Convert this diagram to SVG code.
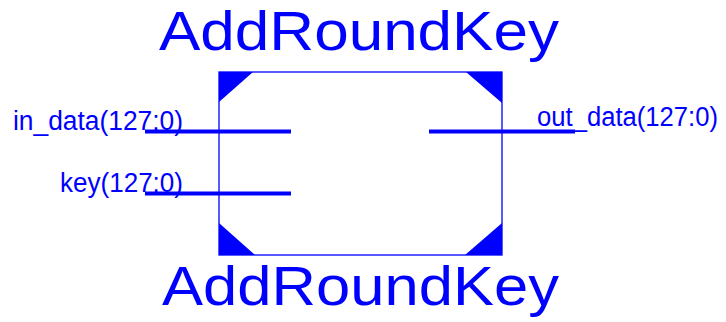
<svg xmlns="http://www.w3.org/2000/svg" width="726" height="322" viewBox="0 0 726 322">
<style>
.t{font-family:"Liberation Sans",Arial,sans-serif;fill:#0000ff}
.big{font-size:55px}
.lbl{font-size:27px}
.wire{stroke:#0000ff;stroke-width:4;fill:none}
.corner{fill:#0000ff}
</style>
<rect width="726" height="322" fill="#ffffff"/>
<g id="title-top"><text class="t big" x="159" y="50" textLength="400" lengthAdjust="spacingAndGlyphs">AddRoundKey</text></g>
<g id="AddRoundKey">
<rect x="219" y="72" width="283" height="183" fill="#ffffff" stroke="#0000ff" stroke-width="1.3"/>
<polygon class="corner" points="219,72 253,72 219,102"/>
<polygon class="corner" points="466,72 502,72 502,103"/>
<polygon class="corner" points="219,223 219,255 255,255"/>
<polygon class="corner" points="502,223 502,255 465,255"/>
</g>
<g id="connectors">
<line class="wire" x1="145" y1="131.5" x2="291" y2="131.5"/>
<line class="wire" x1="145" y1="193.5" x2="291" y2="193.5"/>
<line class="wire" x1="429" y1="131.5" x2="575" y2="131.5"/>
</g>
<g id="port-in_data"><text class="t lbl" x="13" y="130" textLength="170" lengthAdjust="spacingAndGlyphs">in_data(127:0)</text></g>
<g id="port-key"><text class="t lbl" x="60" y="192" textLength="123" lengthAdjust="spacingAndGlyphs">key(127:0)</text></g>
<g id="port-out_data"><text class="t lbl" x="537" y="126" textLength="181" lengthAdjust="spacingAndGlyphs">out_data(127:0)</text></g>
<g id="title-bottom"><text class="t big" x="162" y="305" textLength="397" lengthAdjust="spacingAndGlyphs">AddRoundKey</text></g>
</svg>
